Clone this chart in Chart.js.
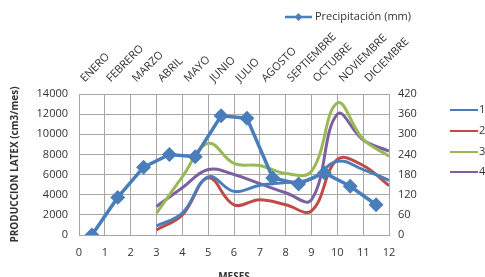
<!DOCTYPE html>
<html>
<head>
<meta charset="utf-8">
<script src="https://cdn.jsdelivr.net/npm/chart.js@4.4.0/dist/chart.umd.min.js"></script>
<style>
  html, body { margin: 0; padding: 0; background: #fff; overflow: hidden; }
  #wrap { width: 485px; height: 283px; }
</style>
</head>
<body>
<div id="wrap"><canvas id="grafico"></canvas></div>
<script>
// meses (eje superior)
const meses = ['ENERO', 'FEBRERO', 'MARZO', 'ABRIL', 'MAYO', 'JUNIO', 'JULIO',
  'AGOSTO', 'SEPTIEMBRE', 'OCTUBRE', 'NOVIEMBRE', 'DICIEMBRE'];

// precipitacion (mm) en el centro de cada mes
const xPrecip = [0.5, 1.5, 2.5, 3.5, 4.5, 5.5, 6.5, 7.5, 8.5, 9.5, 10.5, 11.5];
const precipitacion = [0, 112, 202, 240, 233, 355, 348, 170, 152, 185, 145, 90];

// produccion latex (cm3/mes)
const xLatex = [3, 4, 5, 6, 7, 8, 9, 10, 11, 12];
const latex1 = [900, 2170, 5770, 4330, 4950, 5200, 5570, 7330, 6500, 5430];
const latex2 = [500, 2000, 5670, 3000, 3500, 3000, 2400, 7500, 6900, 4900];
const latex3 = [2170, 5770, 9100, 7100, 6900, 6100, 6330, 13100, 9500, 7830];
const latex4 = [2830, 4700, 6500, 6000, 5100, 4200, 3500, 12000, 9430, 8330];

const ticksIzq = [0, 2000, 4000, 6000, 8000, 10000, 12000, 14000];
const ticksDer = [0, 60, 120, 180, 240, 300, 360, 420];

const AZUL = '#4A7EBB';
const ROJO = '#BE4B48';
const VERDE = '#98B954';
const MORADO = '#7D60A0';
const GRIS = '#a6a6a6';
const TEXTO = '#333333';
const FUENTE = "'Open Sans', sans-serif";

function puntos(xs, ys) {
  return ys.map((v, i) => ({ x: xs[i], y: v }));
}

function serie(nombre, xs, ys, color) {
  return {
    label: nombre,
    data: puntos(xs, ys),
    borderColor: color,
    backgroundColor: color,
    borderWidth: 3,
    pointRadius: 0,
    tension: 0.4,
    yAxisID: 'y'
  };
}

// leyendas dibujadas a mano (una arriba, otra a la derecha)
const leyendas = {
  id: 'leyendas',
  afterDraw(chart) {
    const ctx = chart.ctx;
    const ds = chart.data.datasets;
    ctx.save();
    ctx.font = "11px " + FUENTE;
    ctx.fillStyle = TEXTO;
    ctx.textBaseline = 'middle';
    ctx.textAlign = 'left';

    // precipitacion
    ctx.strokeStyle = ds[0].borderColor;
    ctx.lineWidth = 2.5;
    ctx.beginPath();
    ctx.moveTo(285, 17);
    ctx.lineTo(312, 17);
    ctx.stroke();
    ctx.fillStyle = ds[0].borderColor;
    ctx.beginPath();
    ctx.moveTo(298.5, 13);
    ctx.lineTo(302.5, 17);
    ctx.lineTo(298.5, 21);
    ctx.lineTo(294.5, 17);
    ctx.closePath();
    ctx.fill();
    ctx.fillStyle = TEXTO;
    ctx.fillText(ds[0].label, 315, 17);

    // series 1-4
    const ys = [110, 131, 152, 172];
    for (let i = 1; i < ds.length; i++) {
      const y = ys[i - 1];
      ctx.strokeStyle = ds[i].borderColor;
      ctx.lineWidth = 2;
      ctx.beginPath();
      ctx.moveTo(450, y);
      ctx.lineTo(478, y);
      ctx.stroke();
      ctx.fillText(ds[i].label, 479, y);
    }
    ctx.restore();
  }
};

const sinComas = v => String(v);

const ctx = document.getElementById('grafico');
const grafico = new Chart(ctx, {
  type: 'line',
  data: {
    datasets: [
      {
        label: 'Precipitación (mm)',
        data: puntos(xPrecip, precipitacion),
        borderColor: AZUL,
        backgroundColor: AZUL,
        borderWidth: 3.5,
        pointStyle: 'rectRot',
        pointRadius: 5,
        tension: 0,
        yAxisID: 'y1'
      },
      serie('1', xLatex, latex1, AZUL),
      serie('2', xLatex, latex2, ROJO),
      serie('3', xLatex, latex3, VERDE),
      serie('4', xLatex, latex4, MORADO)
    ]
  },
  options: {
    responsive: true,
    maintainAspectRatio: false,
    animation: false,
    layout: { padding: { left: 0, right: 61, top: 0, bottom: 0 } },
    plugins: {
      legend: { display: false },
      tooltip: { enabled: false }
    },
    scales: {
      x: {
        type: 'linear',
        position: 'bottom',
        min: 0,
        max: 12,
        ticks: { stepSize: 1, padding: 11, color: TEXTO, font: { family: FUENTE, size: 11 }, callback: sinComas },
        grid: { color: GRIS, drawTicks: false },
        border: { color: GRIS },
        title: {
          display: true,
          text: 'MESES',
          color: TEXTO,
          font: { family: FUENTE, size: 10, weight: 'bold' },
          padding: { top: 0, bottom: 0 }
        },
        afterFit: s => { s.height = 48; }
      },
      x2: {
        type: 'category',
        position: 'top',
        labels: meses,
        offset: true,
        grid: { display: false, drawTicks: false },
        border: { display: false },
        ticks: {
          autoSkip: false,
          minRotation: 45,
          maxRotation: 45,
          padding: 9,
          color: TEXTO,
          font: { family: FUENTE, size: 11 }
        },
        afterFit: s => { s.height = 94; }
      },
      y: {
        position: 'left',
        min: 0,
        max: 14000,
        afterBuildTicks: s => { s.ticks = ticksIzq.map(v => ({ value: v })); },
        ticks: { padding: 11, color: TEXTO, font: { family: FUENTE, size: 11 }, callback: sinComas },
        grid: { color: GRIS, drawTicks: false },
        border: { color: GRIS },
        title: {
          display: true,
          text: 'PRODUCCION LATEX (cm3/mes)',
          color: TEXTO,
          font: { family: FUENTE, size: 10, weight: 'bold' },
          padding: { top: 9, bottom: 0 }
        },
        afterFit: s => { s.width = 79; }
      },
      y1: {
        position: 'right',
        min: 0,
        max: 420,
        afterBuildTicks: s => { s.ticks = ticksDer.map(v => ({ value: v })); },
        ticks: { padding: 9, color: TEXTO, font: { family: FUENTE, size: 11 }, callback: sinComas },
        grid: { drawOnChartArea: false, drawTicks: false },
        border: { color: GRIS },
        afterFit: s => { s.width = 35; }
      }
    }
  },
  plugins: [leyendas]
});
</script>
</body>
</html>
